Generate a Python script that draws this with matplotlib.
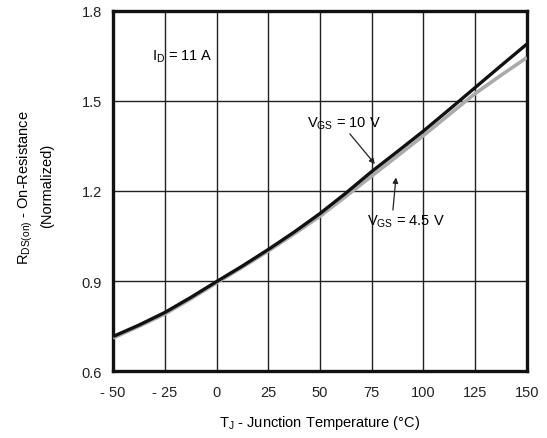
import matplotlib
matplotlib.use("Agg")
from matplotlib import pyplot as plt

plt.rcParams['font.family'] = ['Liberation Sans', 'DejaVu Sans']
plt.rcParams['mathtext.fontset'] = 'custom'
plt.rcParams['mathtext.rm'] = 'Liberation Sans'
plt.rcParams['mathtext.it'] = 'Liberation Sans'

# junction temperature (degC), read every 12.5 degC
temps = [-50, -37.5, -25, -12.5, 0, 12.5, 25, 37.5, 50,
         62.5, 75, 87.5, 100, 112.5, 125, 137.5, 150]
# normalized on-resistance
rds_10v = [0.715, 0.753, 0.795, 0.845, 0.898, 0.950, 1.005, 1.063, 1.125,
           1.193, 1.265, 1.332, 1.400, 1.472, 1.545, 1.618, 1.690]
rds_4v5 = [0.710, 0.749, 0.790, 0.840, 0.894, 0.946, 1.000, 1.057, 1.116,
           1.182, 1.250, 1.317, 1.385, 1.455, 1.525, 1.586, 1.645]

x_ticks = [-50, -25, 0, 25, 50, 75, 100, 125, 150]
x_labels = ['- 50', '- 25', '0', '25', '50', '75', '100', '125', '150']
y_ticks = [0.6, 0.9, 1.2, 1.5, 1.8]
y_labels = ['0.6', '0.9', '1.2', '1.5', '1.8']

fig = plt.figure(figsize=(5.47, 4.39), dpi=100)
ax = fig.add_axes([0.2066, 0.1526, 0.7568, 0.8201])

ax.plot(temps, rds_4v5, color='#ababab', lw=2.6, solid_capstyle='butt', zorder=3)
ax.plot(temps, rds_10v, color='#111111', lw=2.4, solid_capstyle='butt', zorder=4)

ax.set_xlim(-50, 150)
ax.set_ylim(0.6, 1.8)
ax.set_xticks(x_ticks)
ax.set_xticklabels(x_labels)
ax.set_yticks(y_ticks)
ax.set_yticklabels(y_labels)
ax.tick_params(length=0, labelsize=10.5, colors='#222222', pad=8)
ax.tick_params(axis='x', pad=10)
ax.grid(True, color='#222222', lw=1.0)
for s in ax.spines.values():
    s.set_linewidth(2.4)
    s.set_color('#111111')

ax.text(-31, 1.65, r'I$_\mathrm{D}$ = 11 A', fontsize=10.5, va='center', ha='left')

ax.annotate(r'V$_\mathrm{GS}$ = 10 V', xy=(76.5, 1.29), xytext=(43.7, 1.427),
            fontsize=10.5, va='center', ha='left',
            arrowprops=dict(arrowstyle='-|>', color='#222222', lw=0.9,
                            shrinkA=0, shrinkB=0, mutation_scale=8,
                            relpos=(0.55, 0.0)))
ax.annotate(r'V$_\mathrm{GS}$ = 4.5 V', xy=(86.7, 1.245), xytext=(72.7, 1.10),
            fontsize=10.5, va='center', ha='left',
            arrowprops=dict(arrowstyle='-|>', color='#222222', lw=0.9,
                            shrinkA=0, shrinkB=0, mutation_scale=8,
                            relpos=(0.33, 1.0)))

fig.text(0.046, 0.572, r'R$_\mathrm{DS(on)}$ - On-Resistance', rotation=90,
         fontsize=10.5, ha='center', va='center')
fig.text(0.087, 0.577, '(Normalized)', rotation=90,
         fontsize=10.5, ha='center', va='center')
fig.text(0.585, 0.036, r'T$_\mathrm{J}$ - Junction Temperature (°C)',
         fontsize=10.5, ha='center', va='center')

fig.savefig('out.png', dpi=100)
